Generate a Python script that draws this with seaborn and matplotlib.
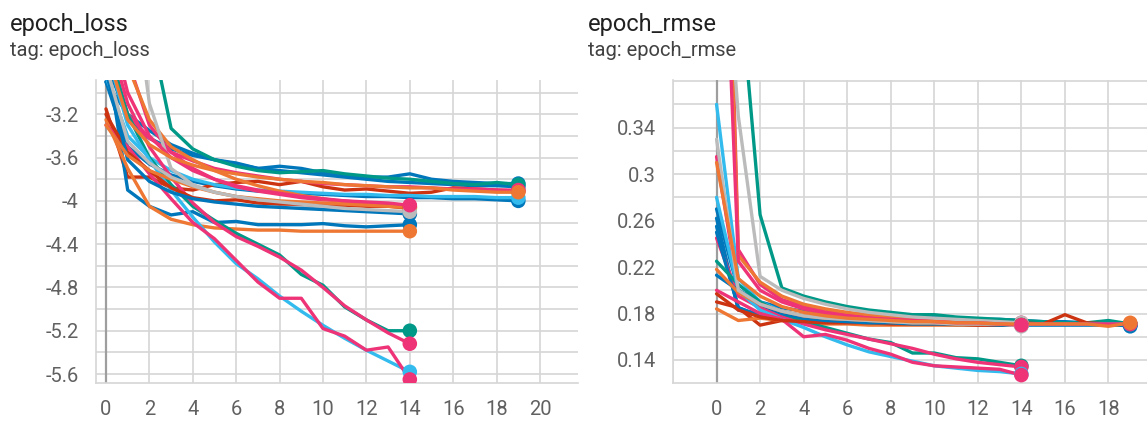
import matplotlib
matplotlib.use("Agg")
import matplotlib.pyplot as plt
import seaborn as sns
import pandas as pd

# ---------------- data ----------------
run_names = ["blue_f", "blue_a", "teal_a", "blue_b", "red_a", "cyan_a", "pink_a",
             "pink_b", "orange_b", "grey_a", "blue_d", "orange_c", "teal_b", "magenta_c",
             "cyan_b", "magenta_d", "red_b", "blue_e", "orange_d", "grey_b", "pink_c", "orange_a"]
run_colors = ["#0077bb", "#0077bb", "#009988", "#0077bb", "#cc3311", "#33bbee", "#ee3377",
              "#ee3377", "#ee7733", "#bbbbbb", "#0077bb", "#ee7733", "#009988", "#ee3377",
              "#33bbee", "#ee3377", "#cc3311", "#0077bb", "#ee7733", "#bbbbbb", "#ee3377", "#ee7733"]

loss_blue_a = [-2.70, -3.25, -3.42, -3.52, -3.58, -3.62, -3.65, -3.70, -3.68, -3.70, -3.74, -3.76, -3.78, -3.78, -3.75, -3.80, -3.82, -3.83, -3.84, -3.84]
loss_teal_a = [-0.50, -1.20, -2.37, -3.33, -3.52, -3.62, -3.68, -3.72, -3.74, -3.73, -3.72, -3.75, -3.77, -3.79, -3.80, -3.82, -3.84, -3.85, -3.83, -3.85]
loss_blue_b = [-2.90, -3.50, -3.66, -3.76, -3.82, -3.86, -3.89, -3.91, -3.92, -3.93, -3.94, -3.95, -3.96, -3.96, -3.97, -3.97, -3.98, -3.98, -3.99, -4.00]
loss_orange_a = [-2.60, -3.25, -3.48, -3.60, -3.67, -3.72, -3.75, -3.78, -3.80, -3.82, -3.83, -3.85, -3.86, -3.87, -3.88, -3.88, -3.90, -3.91, -3.92, -3.92]
loss_red_a = [-3.15, -3.78, -3.78, -3.88, -3.90, -3.85, -3.83, -3.82, -3.85, -3.82, -3.87, -3.90, -3.89, -3.91, -3.93, -3.92, -3.88, -3.89, -3.90, -3.91]
loss_cyan_a = [-2.85, -3.40, -3.60, -3.72, -3.80, -3.85, -3.88, -3.90, -3.91, -3.92, -3.93, -3.94, -3.94, -3.95, -3.95, -3.96, -3.96, -3.96, -3.97, -3.97]
loss_pink_a = [-2.60, -3.20, -3.42, -3.55, -3.63, -3.70, -3.74, -3.77, -3.80, -3.82, -3.84, -3.85, -3.86, -3.87, -3.87, -3.88, -3.89, -3.89, -3.90, -3.90]
loss_pink_b = [-1.80, -2.70, -3.30, -3.55, -3.70, -3.80, -3.87, -3.91, -3.94, -3.97, -3.99, -4.00, -4.02, -4.03, -4.05]
loss_orange_b = [-1.90, -2.75, -3.25, -3.50, -3.62, -3.72, -3.80, -3.86, -3.91, -3.95, -3.98, -4.01, -4.03, -4.05, -4.07]
loss_grey_a = [-1.00, -1.60, -3.10, -3.70, -3.85, -3.92, -3.96, -3.99, -4.02, -4.04, -4.06, -4.08, -4.09, -4.10, -4.12]
loss_blue_d = [-2.60, -3.90, -4.05, -4.13, -4.10, -4.20, -4.19, -4.22, -4.22, -4.22, -4.21, -4.23, -4.24, -4.23, -4.22]
loss_orange_c = [-3.25, -3.70, -4.05, -4.17, -4.22, -4.25, -4.26, -4.27, -4.27, -4.28, -4.28, -4.28, -4.28, -4.28, -4.28]
loss_teal_b = [-2.50, -3.20, -3.60, -3.85, -4.05, -4.18, -4.30, -4.40, -4.50, -4.68, -4.78, -4.98, -5.10, -5.20, -5.20]
loss_magenta_c = [-2.40, -3.10, -3.50, -3.78, -4.02, -4.20, -4.33, -4.42, -4.52, -4.64, -4.80, -4.97, -5.10, -5.22, -5.32]
loss_cyan_b = [-2.60, -3.30, -3.62, -3.90, -4.15, -4.38, -4.58, -4.72, -4.88, -5.02, -5.15, -5.27, -5.38, -5.48, -5.58]
loss_magenta_d = [-3.30, -3.50, -3.75, -3.98, -4.20, -4.35, -4.55, -4.75, -4.90, -4.90, -5.18, -5.25, -5.38, -5.35, -5.65]
loss_red_b = [-3.20, -3.55, -3.72, -3.88, -3.97, -4.00, -3.99, -4.02, -4.03, -4.03, -4.04, -4.04, -4.05, -4.05, -4.06]
loss_blue_e = [-2.80, -3.62, -3.82, -3.92, -3.98, -4.01, -4.03, -4.05, -4.06, -4.07, -4.08, -4.09, -4.10, -4.11, -4.12]
loss_orange_d = [-3.30, -3.58, -3.72, -3.80, -3.87, -3.92, -3.96, -3.98, -4.00, -4.01, -4.02, -4.03, -4.04, -4.05, -4.06]
loss_grey_b = [-2.75, -3.45, -3.65, -3.78, -3.86, -3.92, -3.96, -3.99, -4.01, -4.03, -4.05, -4.07, -4.08, -4.09, -4.10]
loss_pink_c = [-2.20, -3.00, -3.40, -3.60, -3.72, -3.80, -3.86, -3.90, -3.93, -3.96, -3.98, -4.00, -4.01, -4.02, -4.04]
loss_blue_f = [-2.90, -3.20, -3.35, -3.48, -3.56, -3.62, -3.66, -3.70, -3.72, -3.74, -3.76, -3.78, -3.80, -3.82, -3.83, -3.84, -3.85, -3.86, -3.86, -3.87]

rmse_blue_a = [0.270, 0.200, 0.190, 0.185, 0.182, 0.180, 0.179, 0.178, 0.178, 0.177, 0.177, 0.176, 0.175, 0.175, 0.174, 0.173, 0.173, 0.172, 0.171, 0.169]
rmse_teal_a = [0.700, 0.480, 0.265, 0.202, 0.195, 0.190, 0.186, 0.183, 0.181, 0.179, 0.179, 0.177, 0.176, 0.175, 0.174, 0.173, 0.172, 0.172, 0.174, 0.171]
rmse_blue_b = [0.255, 0.185, 0.178, 0.175, 0.174, 0.173, 0.172, 0.172, 0.171, 0.171, 0.171, 0.171, 0.170, 0.170, 0.170, 0.170, 0.170, 0.170, 0.170, 0.170]
rmse_orange_a = [0.310, 0.210, 0.195, 0.186, 0.181, 0.178, 0.176, 0.175, 0.174, 0.173, 0.173, 0.172, 0.172, 0.171, 0.171, 0.171, 0.171, 0.171, 0.169, 0.172]
rmse_red_a = [0.190, 0.185, 0.170, 0.174, 0.172, 0.173, 0.172, 0.172, 0.171, 0.171, 0.171, 0.171, 0.171, 0.171, 0.172, 0.171, 0.179, 0.172, 0.171, 0.171]
rmse_cyan_a = [0.360, 0.210, 0.190, 0.182, 0.178, 0.176, 0.175, 0.174, 0.173, 0.172, 0.172, 0.172, 0.171, 0.171, 0.171, 0.171, 0.171, 0.171, 0.171, 0.171]
rmse_pink_a = [0.245, 0.195, 0.185, 0.180, 0.177, 0.175, 0.174, 0.173, 0.173, 0.172, 0.172, 0.172, 0.171, 0.171, 0.171, 0.171, 0.171, 0.171, 0.171, 0.171]
rmse_pink_b = [0.900, 0.235, 0.205, 0.192, 0.186, 0.182, 0.180, 0.178, 0.176, 0.175, 0.174, 0.173, 0.173, 0.172, 0.172]
rmse_orange_b = [0.850, 0.230, 0.207, 0.195, 0.188, 0.184, 0.181, 0.179, 0.177, 0.176, 0.175, 0.174, 0.173, 0.172, 0.171]
rmse_grey_a = [0.600, 0.350, 0.212, 0.200, 0.193, 0.188, 0.184, 0.181, 0.179, 0.177, 0.176, 0.175, 0.174, 0.173, 0.172]
rmse_blue_d = [0.250, 0.185, 0.178, 0.175, 0.173, 0.172, 0.172, 0.171, 0.171, 0.171, 0.171, 0.170, 0.170, 0.170, 0.170]
rmse_orange_c = [0.184, 0.174, 0.176, 0.174, 0.172, 0.171, 0.171, 0.170, 0.170, 0.170, 0.170, 0.170, 0.170, 0.170, 0.170]
rmse_teal_b = [0.225, 0.205, 0.190, 0.180, 0.173, 0.168, 0.163, 0.158, 0.155, 0.146, 0.146, 0.142, 0.141, 0.138, 0.135]
rmse_magenta_c = [0.315, 0.200, 0.185, 0.177, 0.171, 0.166, 0.162, 0.158, 0.154, 0.150, 0.145, 0.141, 0.138, 0.136, 0.134]
rmse_cyan_b = [0.280, 0.200, 0.183, 0.175, 0.168, 0.160, 0.153, 0.147, 0.143, 0.139, 0.135, 0.133, 0.131, 0.130, 0.128]
rmse_magenta_d = [0.200, 0.190, 0.180, 0.175, 0.160, 0.162, 0.157, 0.150, 0.145, 0.138, 0.135, 0.134, 0.133, 0.132, 0.127]
rmse_red_b = [0.197, 0.183, 0.177, 0.174, 0.173, 0.172, 0.172, 0.172, 0.171, 0.171, 0.171, 0.171, 0.170, 0.170, 0.170]
rmse_blue_e = [0.213, 0.200, 0.188, 0.180, 0.176, 0.174, 0.173, 0.172, 0.172, 0.171, 0.171, 0.171, 0.171, 0.170, 0.170]
rmse_orange_d = [0.218, 0.198, 0.188, 0.182, 0.178, 0.176, 0.175, 0.174, 0.173, 0.172, 0.172, 0.171, 0.171, 0.171, 0.170]
rmse_grey_b = [0.330, 0.200, 0.188, 0.182, 0.178, 0.176, 0.175, 0.174, 0.173, 0.172, 0.172, 0.171, 0.171, 0.171, 0.169]
rmse_pink_c = [0.700, 0.225, 0.200, 0.190, 0.184, 0.180, 0.178, 0.176, 0.175, 0.174, 0.173, 0.172, 0.172, 0.171, 0.170]
rmse_blue_f = [0.262, 0.183, 0.180, 0.177, 0.175, 0.174, 0.173, 0.172, 0.172, 0.171, 0.171, 0.171, 0.171, 0.171, 0.171, 0.171, 0.171, 0.171, 0.171, 0.170]

loss_runs = [loss_blue_f, loss_blue_a, loss_teal_a, loss_blue_b, loss_red_a, loss_cyan_a, loss_pink_a,
             loss_pink_b, loss_orange_b, loss_grey_a, loss_blue_d, loss_orange_c, loss_teal_b, loss_magenta_c,
             loss_cyan_b, loss_magenta_d, loss_red_b, loss_blue_e, loss_orange_d, loss_grey_b, loss_pink_c, loss_orange_a]
rmse_runs = [rmse_blue_f, rmse_blue_a, rmse_teal_a, rmse_blue_b, rmse_red_a, rmse_cyan_a, rmse_pink_a,
             rmse_pink_b, rmse_orange_b, rmse_grey_a, rmse_blue_d, rmse_orange_c, rmse_teal_b, rmse_magenta_c,
             rmse_cyan_b, rmse_magenta_d, rmse_red_b, rmse_blue_e, rmse_orange_d, rmse_grey_b, rmse_pink_c, rmse_orange_a]

loss_yticks = [-5.6, -5.2, -4.8, -4.4, -4.0, -3.6, -3.2]
loss_yminor = [-5.4, -5.0, -4.6, -4.2, -3.8, -3.4, -3.0]
rmse_yticks = [0.14, 0.18, 0.22, 0.26, 0.30, 0.34]
rmse_yminor = [0.16, 0.20, 0.24, 0.28, 0.32, 0.36, 0.38]
loss_xticks = [0, 2, 4, 6, 8, 10, 12, 14, 16, 18, 20]
rmse_xticks = [-2, 0, 2, 4, 6, 8, 10, 12, 14, 16, 18]

# ---------------- frame ----------------
rows = []
for name, lv, rv in zip(run_names, loss_runs, rmse_runs):
    for i, v in enumerate(lv):
        rows.append({"run": name, "metric": "loss", "epoch": i, "value": v})
    for i, v in enumerate(rv):
        rows.append({"run": name, "metric": "rmse", "epoch": i, "value": v})
df = pd.DataFrame(rows)
palette = dict(zip(run_names, run_colors))

sns.set_style("white")
plt.rcParams["font.family"] = ["Roboto", "DejaVu Sans"]

GRID = "#d6d6d6"
fig = plt.figure(figsize=(11.47, 4.24), dpi=100)
W, H = 1147, 424


def make_ax(x0, x1, y_top, y_bot):
    return fig.add_axes([x0 / W, 1 - y_bot / H, (x1 - x0) / W, (y_bot - y_top) / H])


ax1 = make_ax(96, 578, 80, 383)
ax2 = make_ax(673, 1147, 80, 383)

panels = [
    (ax1, "loss", (-0.46, 21.75), (-5.683, -2.883), loss_xticks, [str(v) for v in loss_xticks],
     loss_yticks, loss_yminor),
    (ax2, "rmse", (-2.0, 19.77), (0.1202, 0.381), rmse_xticks, [""] + [str(v) for v in rmse_xticks[1:]],
     rmse_yticks, rmse_yminor),
]

for ax, metric, xl, yl, xt, xtl, yt, ym in panels:
    d = df[df["metric"] == metric]
    ax.axvline(0, color="#9e9e9e", lw=1.6, zorder=1.2)
    sns.lineplot(data=d, x="epoch", y="value", hue="run", hue_order=run_names, palette=palette,
                 estimator=None, sort=False, legend=False, linewidth=2.4, ax=ax, zorder=2)
    last = d.groupby("run").tail(1)
    sns.scatterplot(data=last, x="epoch", y="value", hue="run", hue_order=run_names, palette=palette,
                    s=110, linewidth=0, legend=False, ax=ax, zorder=3)
    ax.set_xlim(*xl)
    ax.set_ylim(*yl)
    ax.set_xticks(xt)
    ax.set_xticklabels(xtl)
    ax.set_yticks(yt)
    ax.set_yticklabels([f"{v:g}" for v in yt])
    ax.set_yticks(ym, minor=True)
    ax.grid(True, which="both", color=GRID, lw=1.2, zorder=0)
    ax.set_axisbelow(True)
    for s in ["top", "right"]:
        ax.spines[s].set_visible(False)
    for s in ["left", "bottom"]:
        ax.spines[s].set_color(GRID)
        ax.spines[s].set_linewidth(1.2)
    ax.tick_params(which="both", direction="out", length=6.5, width=1.2, color=GRID,
                   labelcolor="#616161", labelsize=14.5, pad=6)
    ax.set_xlabel("")
    ax.set_ylabel("")

fig.text(10 / W, 1 - 31 / H, "epoch_loss", fontsize=17, color="#212121", va="baseline")
fig.text(10 / W, 1 - 56 / H, "tag: epoch_loss", fontsize=14.5, color="#424242", va="baseline")
fig.text(588 / W, 1 - 31 / H, "epoch_rmse", fontsize=17, color="#212121", va="baseline")
fig.text(588 / W, 1 - 56 / H, "tag: epoch_rmse", fontsize=14.5, color="#424242", va="baseline")

fig.savefig("out.png", dpi=100)
